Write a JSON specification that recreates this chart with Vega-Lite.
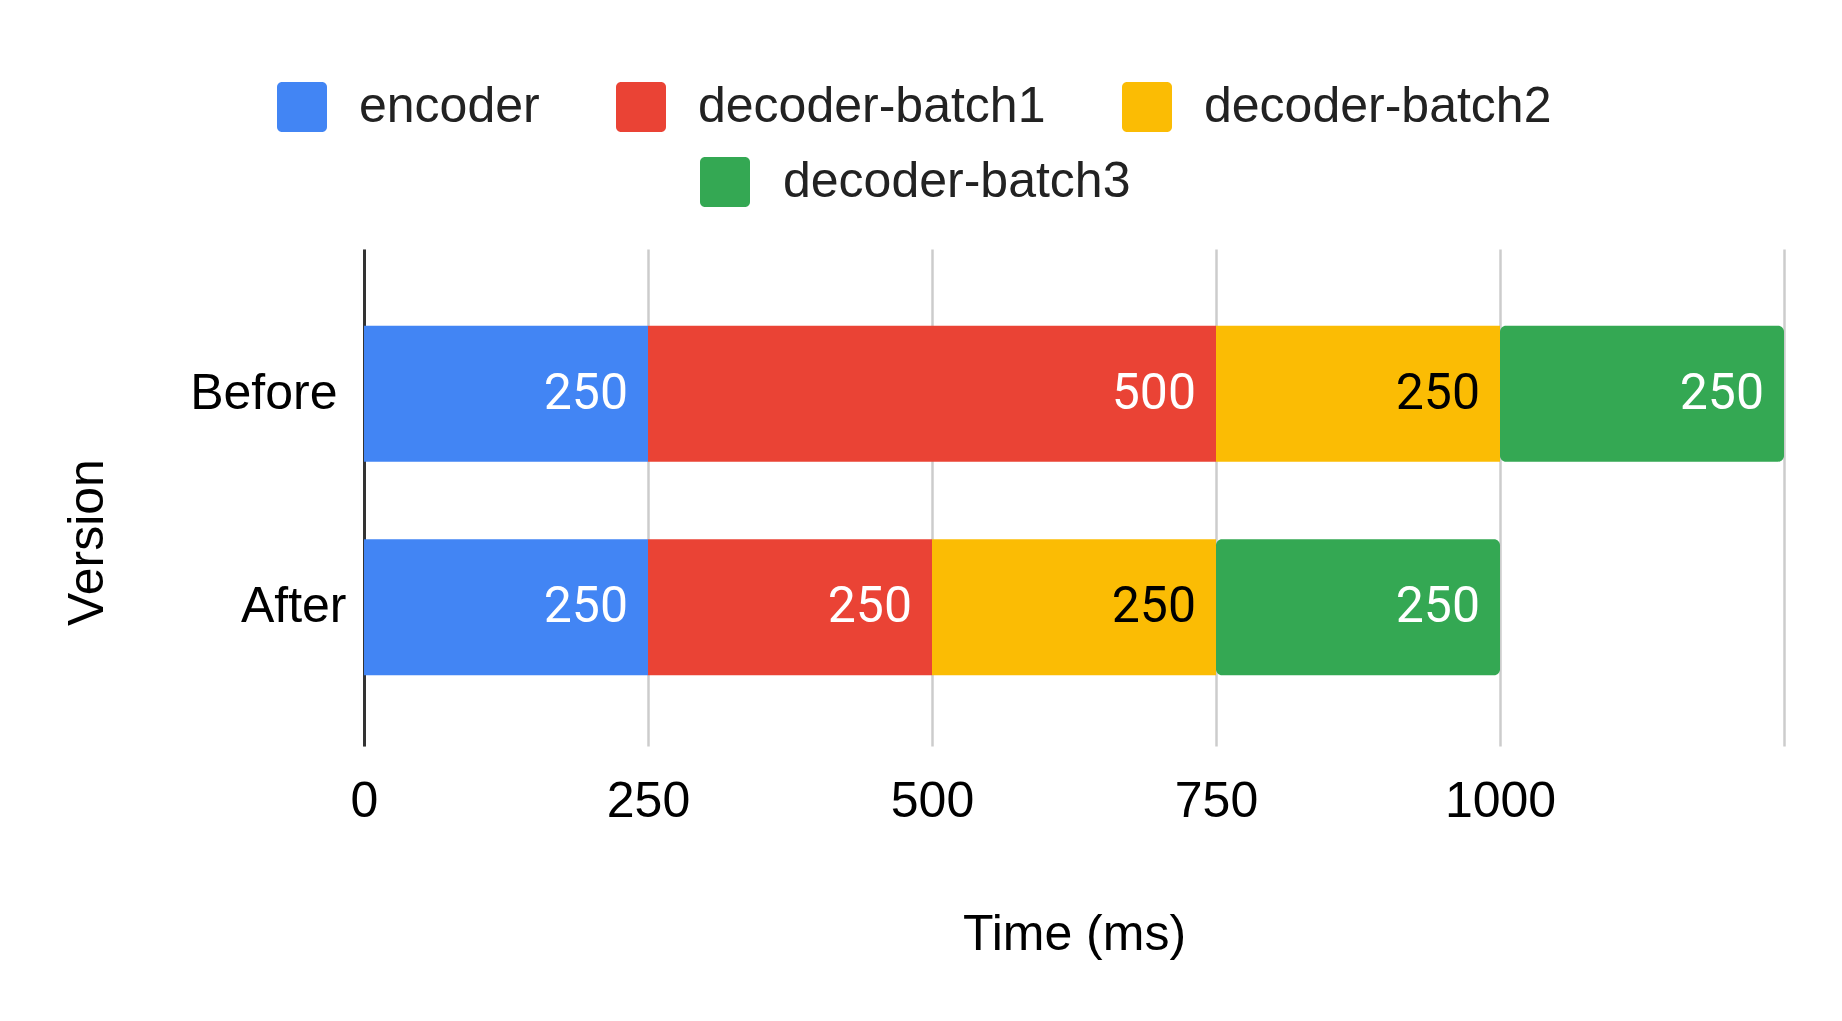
{
  "$schema": "https://vega.github.io/schema/vega-lite/v6.json",
  "width": 1420,
  "height": 497,
  "autosize": {"type": "none"},
  "padding": {"left": 364, "top": 249, "right": 58, "bottom": 275},
  "background": "white",
  "config": {"view": {"stroke": null}, "font": "Liberation Sans"},
  "data": {
    "values": [
      {"version": "Before", "stage": "encoder", "time": 250},
      {"version": "Before", "stage": "decoder-batch1", "time": 500},
      {"version": "Before", "stage": "decoder-batch2", "time": 250},
      {"version": "Before", "stage": "decoder-batch3", "time": 250},
      {"version": "After", "stage": "encoder", "time": 250},
      {"version": "After", "stage": "decoder-batch1", "time": 250},
      {"version": "After", "stage": "decoder-batch2", "time": 250},
      {"version": "After", "stage": "decoder-batch3", "time": 250}
    ]
  },
  "transform": [{"stack": "time", "groupby": ["version"], "as": ["t0", "t1"]}],
  "encoding": {
    "y": {
      "field": "version",
      "type": "nominal",
      "sort": ["Before", "After"],
      "scale": {"paddingInner": 0.363, "paddingOuter": 0.3455, "align": 0.52},
      "axis": {
        "title": "Version",
        "titleFontSize": 50,
        "titleFontWeight": "normal",
        "titleColor": "#000",
        "titleFont": "Liberation Sans",
        "titleAngle": -90,
        "titleX": -262,
        "titleY": 293,
        "titleAlign": "center",
        "titleBaseline": "alphabetic",
        "labelFontSize": 50,
        "labelColor": "#000",
        "labelFont": "Liberation Sans",
        "labelPadding": {"condition": {"test": "datum.value === 'After'", "value": 18}, "value": 27},
        "labelLimit": 600,
        "ticks": false,
        "grid": false,
        "domain": true,
        "domainColor": "#333333",
        "domainWidth": 3
      }
    }
  },
  "layer": [
    {
      "transform": [{"filter": "datum.stage !== 'decoder-batch3'"}],
      "mark": {"type": "bar"},
      "encoding": {
        "x": {
          "field": "t0",
          "type": "quantitative",
          "scale": {"domain": [0, 1250], "nice": false},
          "axis": {
            "title": "Time (ms)",
            "values": [0, 250, 500, 750, 1000, 1250],
            "labelExpr": "datum.value == 1250 ? '' : datum.label",
            "format": "d",
            "labelFlush": false,
            "titleFontSize": 50,
            "titleFontWeight": "normal",
            "titleColor": "#000",
            "titlePadding": 83,
            "labelFontSize": 50,
            "labelColor": "#000",
            "labelPadding": 30.5,
            "ticks": false,
            "domain": false,
            "grid": true,
            "gridColor": "#cccccc",
            "gridWidth": 2.5
          }
        },
        "x2": {"field": "t1"},
        "color": {
          "field": "stage",
          "type": "nominal",
          "scale": {
            "domain": ["encoder", "decoder-batch1", "decoder-batch2"],
            "range": ["#4285F4", "#EA4335", "#FBBC04"]
          },
          "legend": {
            "title": null,
            "orient": "none",
            "direction": "horizontal",
            "legendX": -87,
            "legendY": -167,
            "padding": 0,
            "symbolType": "M-0.8,-1H0.8A0.2,0.2 0 0 1 1,-0.8V0.8A0.2,0.2 0 0 1 0.8,1H-0.8A0.2,0.2 0 0 1 -1,0.8V-0.8A0.2,0.2 0 0 1 -0.8,-1Z",
            "symbolSize": 2500,
            "symbolStrokeWidth": 0,
            "symbolOpacity": 1,
            "labelFontSize": 50,
            "labelColor": "#222",
            "labelOffset": 32,
            "labelLimit": 1000,
            "columnPadding": 76
          }
        }
      }
    },
    {
      "transform": [{"filter": "datum.stage === 'decoder-batch3'"}],
      "mark": {"type": "bar", "cornerRadiusEnd": 6},
      "encoding": {
        "x": {"field": "t0", "type": "quantitative"},
        "x2": {"field": "t1"},
        "fill": {
          "field": "stage",
          "type": "nominal",
          "scale": {"domain": ["decoder-batch3"], "range": ["#34A853"]},
          "legend": {
            "title": null,
            "orient": "none",
            "direction": "horizontal",
            "legendX": 336,
            "legendY": -92,
            "padding": 0,
            "symbolType": "M-0.8,-1H0.8A0.2,0.2 0 0 1 1,-0.8V0.8A0.2,0.2 0 0 1 0.8,1H-0.8A0.2,0.2 0 0 1 -1,0.8V-0.8A0.2,0.2 0 0 1 -0.8,-1Z",
            "symbolSize": 2500,
            "symbolStrokeWidth": 0,
            "symbolOpacity": 1,
            "labelFontSize": 50,
            "labelColor": "#222",
            "labelOffset": 33,
            "labelLimit": 1000
          }
        }
      }
    },
    {
      "mark": {"type": "text", "align": "right", "baseline": "middle", "dx": -20, "font": "Roboto", "fontSize": 50},
      "encoding": {
        "x": {"field": "t1", "type": "quantitative"},
        "text": {"field": "time", "type": "quantitative"},
        "color": {
          "condition": {"test": "datum.stage === 'decoder-batch2'", "value": "#000000"},
          "value": "#ffffff"
        }
      }
    }
  ]
}
